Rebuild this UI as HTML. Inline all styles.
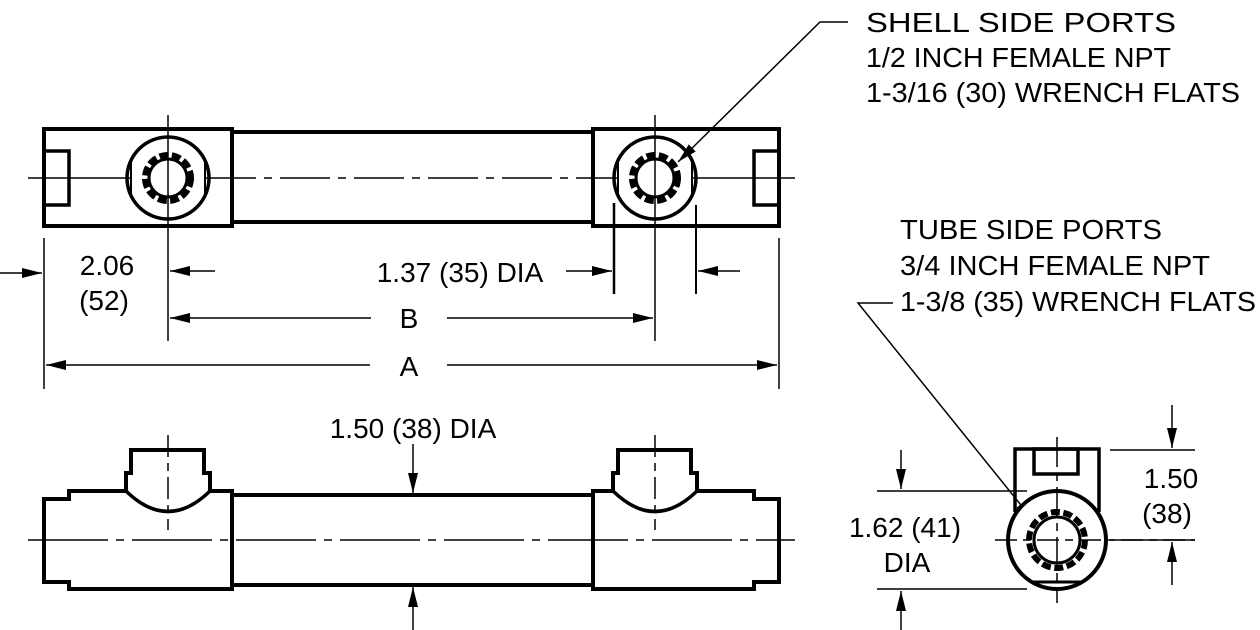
<!DOCTYPE html>
<html><head><style>html,body{margin:0;padding:0;background:#fff}svg{display:block}text{font-family:"Liberation Sans",Arial,sans-serif;fill:#000}</style></head>
<body>
<svg width="1260" height="630" viewBox="0 0 1260 630" xmlns="http://www.w3.org/2000/svg">
<defs>
<marker id="ah" viewBox="0 0 20 10" refX="20" refY="5" markerWidth="20" markerHeight="10" markerUnits="userSpaceOnUse" orient="auto"><path d="M0,0 L20,5 L0,10 Z" fill="#000"/></marker>
<g id="port">
<circle cx="0" cy="0" r="41" fill="none" stroke="#000" stroke-width="3.5"/>
<line x1="-37" y1="-16" x2="-37" y2="16" stroke="#000" stroke-width="2"/>
<line x1="37" y1="-16" x2="37" y2="16" stroke="#000" stroke-width="2"/>
<circle cx="0" cy="0" r="19" fill="none" stroke="#000" stroke-width="3"/>
<circle cx="0" cy="0" r="23" fill="none" stroke="#000" stroke-width="6" stroke-dasharray="9 3.45"/>
</g>
</defs>
<g stroke="#000" fill="none">
<rect x="44" y="129" width="188" height="97" stroke-width="4"/>
<rect x="593" y="129" width="186" height="97" stroke-width="4"/>
<line x1="232" y1="132" x2="593" y2="132" stroke-width="4"/>
<line x1="232" y1="222" x2="593" y2="222" stroke-width="4"/>
<rect x="44" y="151" width="25" height="54" stroke-width="3.5"/>
<rect x="754" y="151" width="25" height="54" stroke-width="3.5"/>
<line x1="28" y1="178" x2="130" y2="178" stroke-width="1.5"/>
<line x1="206" y1="178" x2="617" y2="178" stroke-width="1.5" stroke-dasharray="50 8 8 8"/>
<line x1="693" y1="178" x2="795" y2="178" stroke-width="1.5"/>
<use href="#port" x="168" y="178"/>
<use href="#port" x="655" y="178"/>
<line x1="168" y1="115" x2="168" y2="341" stroke-width="1.5"/>
<line x1="655" y1="115" x2="655" y2="341" stroke-width="1.5"/>
<line x1="44" y1="238" x2="44" y2="389" stroke-width="1.5"/>
<line x1="779" y1="238" x2="779" y2="389" stroke-width="1.5"/>
<line x1="0" y1="273" x2="42" y2="273" stroke-width="1.5" marker-end="url(#ah)"/>
<line x1="215" y1="271" x2="170" y2="271" stroke-width="1.5" marker-end="url(#ah)"/>
<line x1="371" y1="318" x2="170" y2="318" stroke-width="1.5" marker-end="url(#ah)"/>
<line x1="447" y1="318" x2="653" y2="318" stroke-width="1.5" marker-end="url(#ah)"/>
<line x1="370" y1="365" x2="46" y2="365" stroke-width="1.5" marker-end="url(#ah)"/>
<line x1="447" y1="365" x2="777" y2="365" stroke-width="1.5" marker-end="url(#ah)"/>
<line x1="614" y1="203" x2="614" y2="294" stroke-width="2.5"/>
<line x1="696" y1="205" x2="696" y2="294" stroke-width="2"/>
<line x1="566" y1="271" x2="612" y2="271" stroke-width="1.5" marker-end="url(#ah)"/>
<line x1="740" y1="271" x2="698" y2="271" stroke-width="1.5" marker-end="url(#ah)"/>
<polyline points="848,22 820,22 678,162" stroke-width="1.5" marker-end="url(#ah)"/>
<polyline points="893,303 858,303 1033,520" stroke-width="1.5" marker-end="url(#ah)"/>
<path d="M44,499 H69 V491 H126 V473 H131 V450 H204 V473 H210 V491 H232 V589 H69 V582 H44 Z" stroke-width="4"/>
<path d="M126,491 Q168,532 210,491" stroke-width="3.5"/>
<path d="M593,499 V491 H613 V473 H618 V450 H691 V473 H697 V491 H754 V499 H779 V582 H754 V589 H593 Z" stroke-width="4"/>
<path d="M613,491 Q655,532 697,491" stroke-width="3.5"/>
<line x1="232" y1="495" x2="593" y2="495" stroke-width="4"/>
<line x1="232" y1="585" x2="593" y2="585" stroke-width="4"/>
<line x1="28" y1="540" x2="795" y2="540" stroke-width="1.5" stroke-dasharray="80 8 8 8"/>
<line x1="168" y1="435" x2="168" y2="530" stroke-width="1.5" stroke-dasharray="22 6 8 6"/>
<line x1="655" y1="435" x2="655" y2="530" stroke-width="1.5" stroke-dasharray="22 6 8 6"/>
<line x1="413" y1="444" x2="413" y2="493" stroke-width="1.5" marker-end="url(#ah)"/>
<line x1="413" y1="630" x2="413" y2="587" stroke-width="1.5" marker-end="url(#ah)"/>
<path d="M1015,512 V449 H1099 V512" stroke-width="3.5"/>
<rect x="1034" y="449" width="44" height="25" stroke-width="3.5"/>
<circle cx="1057" cy="540" r="49" stroke-width="4" fill="#fff"/>
<line x1="1032" y1="582" x2="1082" y2="582" stroke-width="3"/>
<circle cx="1057" cy="540" r="23" stroke-width="3"/>
<circle cx="1057" cy="540" r="28" stroke-width="6" stroke-dasharray="9 3.56"/>
<line x1="995" y1="540" x2="1195" y2="540" stroke-width="1.5" stroke-dasharray="22 6 8 6"/>
<line x1="1057" y1="437" x2="1057" y2="603" stroke-width="1.5" stroke-dasharray="30 6 8 6"/>
<line x1="1110" y1="450" x2="1195" y2="450" stroke-width="1.5"/>
<line x1="1110" y1="540" x2="1195" y2="540" stroke-width="1.5"/>
<line x1="1172" y1="405" x2="1172" y2="448" stroke-width="1.5" marker-end="url(#ah)"/>
<line x1="1172" y1="585" x2="1172" y2="542" stroke-width="1.5" marker-end="url(#ah)"/>
<line x1="877" y1="491" x2="1027" y2="491" stroke-width="1.5"/>
<line x1="877" y1="589" x2="1027" y2="589" stroke-width="1.5"/>
<line x1="901" y1="450" x2="901" y2="489" stroke-width="1.5" marker-end="url(#ah)"/>
<line x1="901" y1="630" x2="901" y2="591" stroke-width="1.5" marker-end="url(#ah)"/>
</g>
<g font-size="28">
<text x="866" y="32" textLength="310" lengthAdjust="spacingAndGlyphs">SHELL  SIDE PORTS</text>
<text x="866" y="67" textLength="305" lengthAdjust="spacingAndGlyphs">1/2 INCH FEMALE NPT</text>
<text x="866" y="102" textLength="374" lengthAdjust="spacingAndGlyphs">1-3/16 (30) WRENCH FLATS</text>
<text x="900" y="239" textLength="262" lengthAdjust="spacingAndGlyphs">TUBE SIDE PORTS</text>
<text x="900" y="275" textLength="310" lengthAdjust="spacingAndGlyphs">3/4 INCH FEMALE NPT</text>
<text x="900" y="311" textLength="356" lengthAdjust="spacingAndGlyphs">1-3/8 (35) WRENCH FLATS</text>
<text x="107" y="275" text-anchor="middle">2.06</text>
<text x="104" y="310" text-anchor="middle">(52)</text>
<text x="460" y="282" text-anchor="middle">1.37 (35) DIA</text>
<text x="409" y="328" text-anchor="middle">B</text>
<text x="409" y="376" text-anchor="middle">A</text>
<text x="413" y="438" text-anchor="middle">1.50 (38) DIA</text>
<text x="1171" y="488" text-anchor="middle">1.50</text>
<text x="1167" y="523" text-anchor="middle">(38)</text>
<text x="905" y="537" text-anchor="middle">1.62 (41)</text>
<text x="907" y="572" text-anchor="middle">DIA</text>
</g>
</svg>
</body></html>
